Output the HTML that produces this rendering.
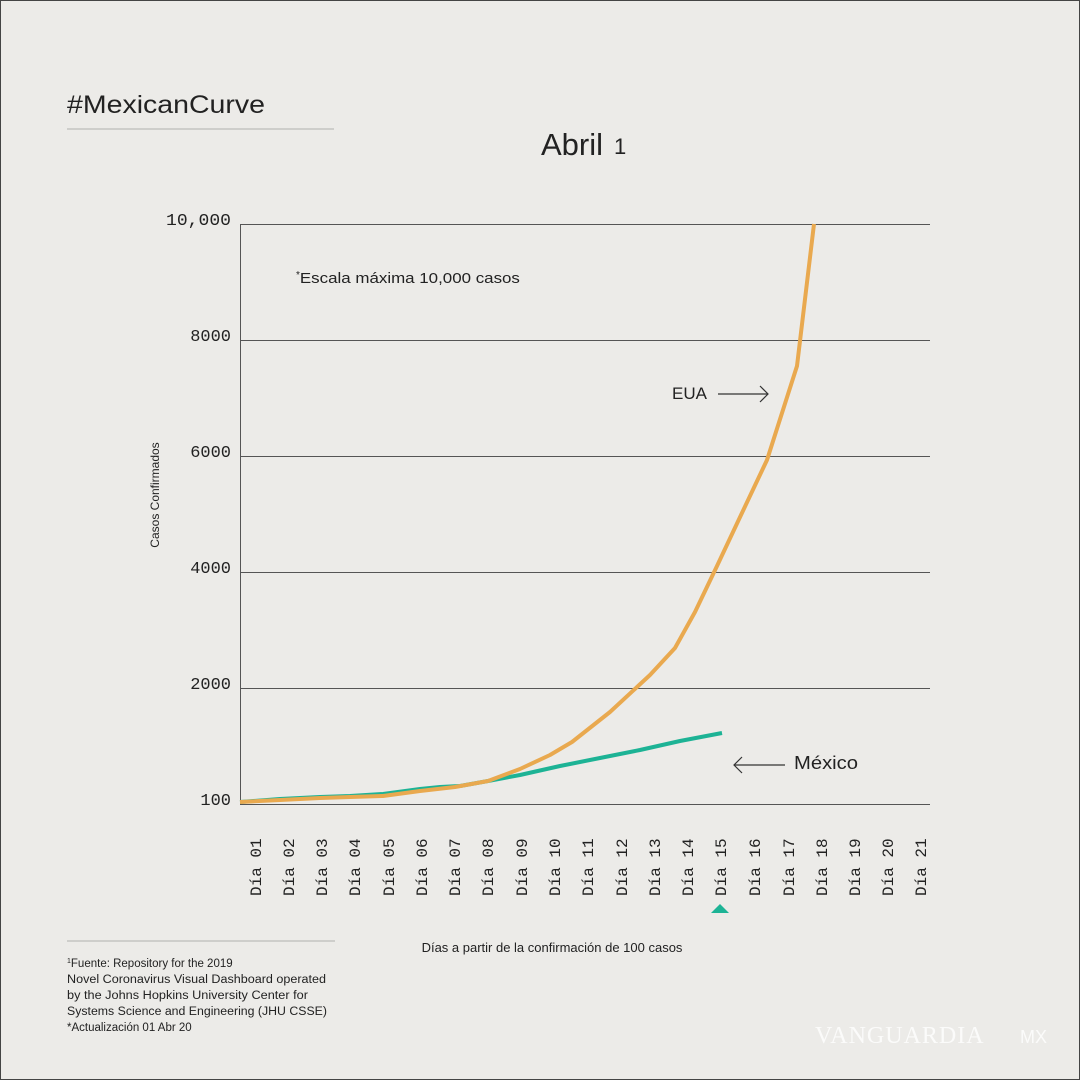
<!DOCTYPE html>
<html><head><meta charset="utf-8"><style>
html,body{margin:0;padding:0;background:#ecebe8;}
body{width:1080px;height:1080px;overflow:hidden;position:relative;font-family:"Liberation Sans",sans-serif;color:#1e1e1e;}
svg{position:absolute;left:0;top:0}
</style></head><body>
<svg width="1080" height="1080" viewBox="0 0 1080 1080">
<rect width="1080" height="1080" fill="#ecebe8"/>
<rect x="0.5" y="0.5" width="1079" height="1079" fill="none" stroke="#444" stroke-width="1"/>
<text x="67" y="113" font-size="25" fill="#222" textLength="198" lengthAdjust="spacingAndGlyphs">#MexicanCurve</text>
<line x1="67" y1="129" x2="334" y2="129" stroke="#b0b0ae" stroke-width="1"/>
<text x="541" y="155" font-size="31" fill="#222">Abril</text>
<text x="614" y="154" font-size="22" fill="#222">1</text>
<g stroke="#555" stroke-width="1">
<line x1="240" y1="224.5" x2="930" y2="224.5"/>
<line x1="240" y1="340.5" x2="930" y2="340.5"/>
<line x1="240" y1="456.5" x2="930" y2="456.5"/>
<line x1="240" y1="572.5" x2="930" y2="572.5"/>
<line x1="240" y1="688.5" x2="930" y2="688.5"/>
<line x1="240" y1="804.5" x2="930" y2="804.5"/>
<line x1="240.5" y1="224" x2="240.5" y2="804"/>
</g>
<g font-family="Liberation Mono,monospace" font-size="17" text-anchor="end" fill="#222">
<text x="231" y="225" textLength="65" lengthAdjust="spacingAndGlyphs">10,000</text>
<text x="231" y="341">8000</text>
<text x="231" y="457">6000</text>
<text x="231" y="573">4000</text>
<text x="231" y="689">2000</text>
<text x="231" y="805">100</text>
</g>
<text transform="translate(159,495) rotate(-90)" font-size="12" text-anchor="middle" fill="#222">Casos Confirmados</text>
<text x="296" y="283" font-size="15" fill="#222"><tspan font-size="10" dy="-5">*</tspan><tspan dy="5" textLength="220" lengthAdjust="spacingAndGlyphs">Escala máxima 10,000 casos</tspan></text>
<g font-family="Liberation Mono,monospace" font-size="16" fill="#222" style="white-space:pre" xml:space="preserve">
<text transform="translate(261,896) rotate(-90)">Día  01</text>
<text transform="translate(294,896) rotate(-90)">Día  02</text>
<text transform="translate(327,896) rotate(-90)">Día  03</text>
<text transform="translate(360,896) rotate(-90)">Día  04</text>
<text transform="translate(394,896) rotate(-90)">Día  05</text>
<text transform="translate(427,896) rotate(-90)">Día  06</text>
<text transform="translate(460,896) rotate(-90)">Día  07</text>
<text transform="translate(493,896) rotate(-90)">Día  08</text>
<text transform="translate(527,896) rotate(-90)">Día  09</text>
<text transform="translate(560,896) rotate(-90)">Día  10</text>
<text transform="translate(593,896) rotate(-90)">Día  11</text>
<text transform="translate(627,896) rotate(-90)">Día  12</text>
<text transform="translate(660,896) rotate(-90)">Día  13</text>
<text transform="translate(693,896) rotate(-90)">Día  14</text>
<text transform="translate(726,896) rotate(-90)">Día  15</text>
<text transform="translate(760,896) rotate(-90)">Día  16</text>
<text transform="translate(794,896) rotate(-90)">Día  17</text>
<text transform="translate(827,896) rotate(-90)">Día  18</text>
<text transform="translate(860,896) rotate(-90)">Día  19</text>
<text transform="translate(893,896) rotate(-90)">Día  20</text>
<text transform="translate(926,896) rotate(-90)">Día  21</text>
</g>
<polygon points="711,913 729,913 720,904" fill="#1db395"/>
<text x="552" y="952" font-size="13" text-anchor="middle" fill="#222">Días a partir de la confirmación de 100 casos</text>
<polyline fill="none" stroke="#1db395" stroke-width="4" stroke-linejoin="round" points="240,802 280,799 320,797 350,796 383,794 420,789 440,787 460,786 488,781 520,775 560,766 600,758 640,750 680,741 722,733"/>
<polyline fill="none" stroke="#e9a94f" stroke-width="4" stroke-linejoin="round" points="240,802 280,800 320,798 350,797 383,796 420,791 455,787 488,781 520,769 550,755 572,742 610,712 650,675 675,648 695,612 717,566 741,515 767,460 797,366 814,224"/>
<text x="672" y="399" font-size="17" fill="#222">EUA</text>
<g stroke="#333" stroke-width="1.2" fill="none">
<line x1="718" y1="394" x2="768" y2="394"/><polyline points="760,386 768,394 760,402"/>
<line x1="734" y1="765" x2="785" y2="765"/><polyline points="742,757 734,765 742,773"/>
</g>
<text x="794" y="769" font-size="18" fill="#222" textLength="64" lengthAdjust="spacingAndGlyphs">México</text>
<line x1="67" y1="941" x2="335" y2="941" stroke="#b0b0ae" stroke-width="1"/>
<g font-size="11.5" fill="#222">
<text x="67" y="967"><tspan font-size="7" dy="-4">1</tspan><tspan dy="4">Fuente: Repository for the 2019</tspan></text>
<text x="67" y="983" textLength="259" lengthAdjust="spacingAndGlyphs">Novel Coronavirus Visual Dashboard operated</text>
<text x="67" y="999" textLength="241" lengthAdjust="spacingAndGlyphs">by the Johns Hopkins University Center for</text>
<text x="67" y="1015" textLength="260" lengthAdjust="spacingAndGlyphs">Systems Science and Engineering (JHU CSSE)</text>
<text x="67" y="1031">*Actualización 01 Abr 20</text>
</g>
<text x="815" y="1043" font-family="Liberation Serif,serif" font-size="24" fill="#fff" opacity="0.8" letter-spacing="1">VANGUARDIA</text>
<text x="1020" y="1043" font-family="Liberation Sans,sans-serif" font-size="18" fill="#fff" opacity="0.8">MX</text>
</svg>
</body></html>
